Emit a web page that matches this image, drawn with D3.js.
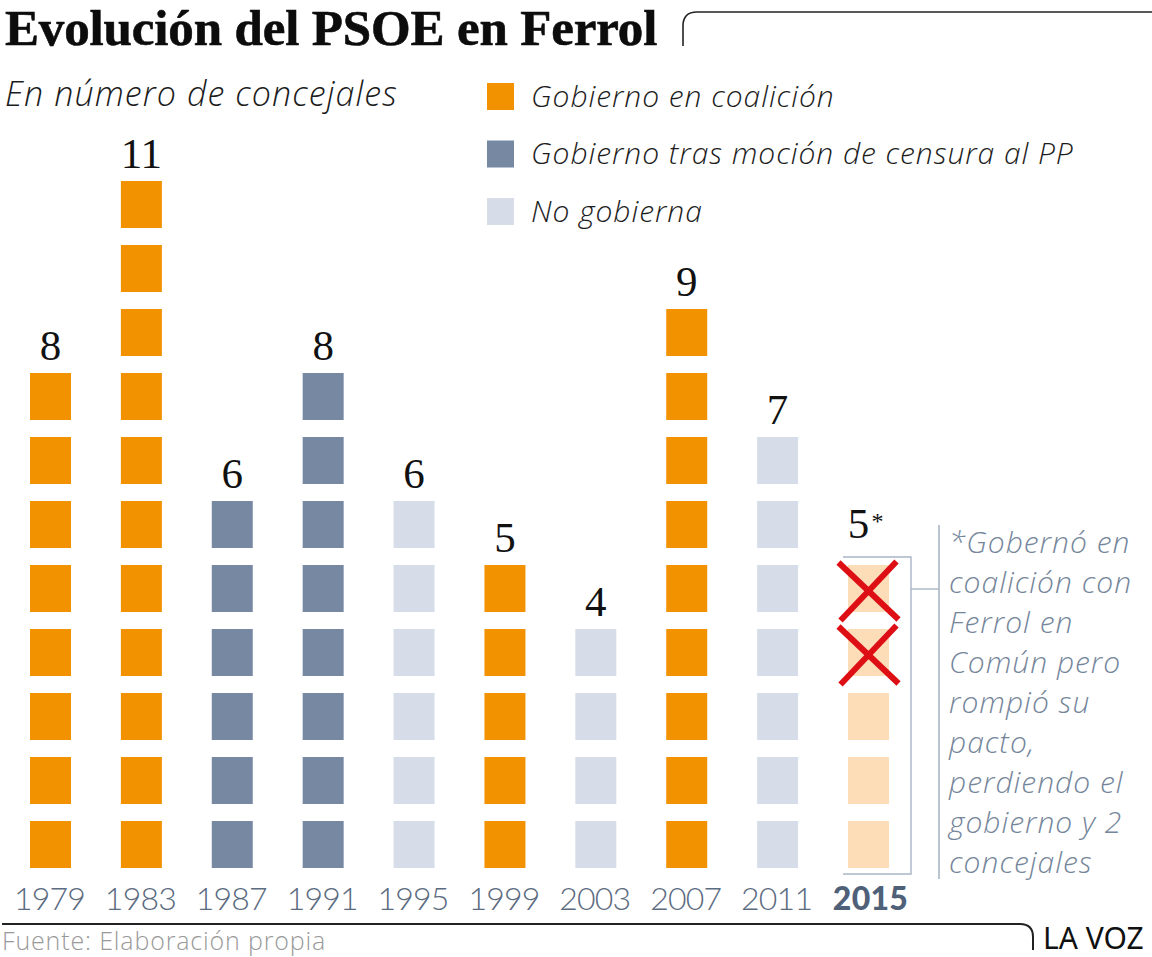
<!DOCTYPE html>
<html>
<head>
<meta charset="utf-8">
<script src="https://cdn.jsdelivr.net/npm/d3@7"></script>
<style>
  html, body { margin: 0; padding: 0; background: #fff; }
  svg { display: block; }
  text { font-family: "Open Sans", sans-serif; }
  .num { font-family: "Liberation Serif", serif; font-size: 43px; fill: #111; text-anchor: middle; }
  .years text { font-family: Lato, sans-serif; font-size: 32px; font-weight: 300; fill: #5b6b80; letter-spacing: -0.8px; }
  .note { font-size: 30px; font-style: italic; font-weight: 300; fill: #75869b; letter-spacing: 1px; }
  .leg { font-size: 30px; font-style: italic; font-weight: 300; fill: #1c1c1c; letter-spacing: 0.95px; }
</style>
</head>
<body>
<svg id="chart" width="1152" height="957"></svg>
<script>
// datos
var years = ["1979","1983","1987","1991","1995","1999","2003","2007","2011","2015"];
var seats = [8, 11, 6, 8, 6, 5, 4, 9, 7, 5];
var govStatus = ["coal","coal","mocion","mocion","no","coal","no","coal","no","roto"];
var seatLabels = ["8","11","6","8","6","5","4","9","7","5"];
var lostSeats = [3, 4]; // concejales perdidos en 2015 (desde abajo)
var legendKeys = ["coal","mocion","no"];
var legendLabels = ["Gobierno en coalición","Gobierno tras moción de censura al PP","No gobierna"];
var noteLines = ["*Gobernó en","coalición con","Ferrol en","Común pero","rompió su","pacto,","perdiendo el","gobierno y 2","concejales"];

var colors = {coal: "#f39200", mocion: "#7788a3", no: "#d7dde8", roto: "#fddcb8"};

var svg = d3.select("#chart");

var x = d3.scaleBand().domain(years).range([30, 889]).paddingInner(0.549).paddingOuter(0);
var y = d3.scaleBand().domain(d3.range(11)).range([868, 181]).paddingInner(0.2656).paddingOuter(0);

// titulo y subtitulo
svg.append("text").attr("x", 5).attr("y", 45)
  .style("font-family", "'Liberation Serif', serif").style("font-weight", 700)
  .style("font-size", "51px").style("letter-spacing", "-0.15px")
  .attr("fill", "#0c0c0c").attr("stroke", "#0c0c0c").attr("stroke-width", 0.6)
  .text("Evolución del PSOE en Ferrol");
svg.append("path").attr("d", "M683,46V26Q683,12 697,12H1152")
  .attr("fill", "none").attr("stroke", "#222").attr("stroke-width", 1.6);
svg.append("text").attr("x", 5).attr("y", 106)
  .style("font-size", "34px").style("font-style", "italic").style("font-weight", 300)
  .style("letter-spacing", "1.1px").attr("fill", "#1c1c1c")
  .text("En número de concejales");

// leyenda
var legY = d3.scalePoint().domain(legendKeys).range([96.5, 211.5]);
var leg = svg.selectAll("g.legend").data(legendKeys).join("g").attr("class", "legend")
  .attr("transform", function(d){ return "translate(0," + legY(d) + ")"; });
leg.append("rect").attr("x", 487).attr("y", -13.5).attr("width", 27).attr("height", 27)
  .attr("fill", function(d){ return colors[d]; });
leg.append("text").attr("class", "leg").attr("x", 531).attr("y", 10)
  .text(function(d, i){ return legendLabels[i]; });

// cuadrados
var cols = svg.selectAll("g.col").data(years).join("g").attr("class", "col")
  .attr("transform", function(d){ return "translate(" + x(d) + ",0)"; });
cols.each(function(d, i){
  d3.select(this).selectAll("rect").data(d3.range(seats[i])).join("rect")
    .attr("y", function(s){ return y(s); })
    .attr("width", x.bandwidth())
    .attr("height", y.bandwidth())
    .attr("fill", colors[govStatus[i]]);
  d3.select(this).append("text").attr("class", "num")
    .attr("x", x.bandwidth() / 2 - (d === "2015" ? 10 : 0))
    .attr("y", y(seats[i] - 1) - (d === "2015" ? 27 : 13))
    .text(seatLabels[i]);
});
// asterisco de 2015
svg.append("text").attr("x", x("2015") + x.bandwidth() / 2 + 3).attr("y", 529)
  .style("font-family", "'Liberation Serif', serif").style("font-size", "24px").attr("fill", "#111").text("*");

// aspas rojas
var x15 = x("2015") + x.bandwidth() / 2;
lostSeats.forEach(function(s){
  var cy = y(s) + y.bandwidth() / 2 + 2;
  var cross = svg.append("g").attr("transform", "translate(" + x15 + "," + cy + ")");
  [[-30, -28, 30, 29], [28, -29, -28, 30]].forEach(function(l){
    cross.append("line").attr("x1", l[0]).attr("y1", l[1]).attr("x2", l[2]).attr("y2", l[3])
      .attr("stroke", "#dd0f14").attr("stroke-width", 6);
  });
});

// llave y nota
var bracketRight = 911;
svg.append("path")
  .attr("d", "M843,557H" + bracketRight + "V874H843")
  .attr("fill", "none").attr("stroke", "#a9b5c6").attr("stroke-width", 1.4);
svg.append("line").attr("x1", bracketRight).attr("x2", 939).attr("y1", 589).attr("y2", 589)
  .attr("stroke", "#a9b5c6").attr("stroke-width", 1.4);
svg.append("line").attr("x1", 939).attr("x2", 939).attr("y1", 525).attr("y2", 879)
  .attr("stroke", "#a9b5c6").attr("stroke-width", 1.6);
svg.selectAll("text.note").data(noteLines).join("text").attr("class", "note")
  .attr("x", 949)
  .attr("y", function(d, i){ return 553 + i * 40; })
  .text(function(d){ return d; });

// eje de anios
var axis = d3.axisBottom(x).tickSize(0).tickPadding(0);
var gAxis = svg.append("g").attr("class", "years").attr("transform", "translate(-1,884)").call(axis);
gAxis.select(".domain").remove();
gAxis.selectAll("text").attr("dy", "0.8em");
gAxis.attr("font-family", null).attr("font-size", null);
gAxis.selectAll(".tick").filter(function(d){ return d === "2015"; }).select("text")
  .style("font-weight", 900).style("fill", "#4f6079").style("letter-spacing", "0.3px").attr("x", 3);

// pie
svg.append("path").attr("d", "M2,924H1020Q1033,924 1033,937V950")
  .attr("fill", "none").attr("stroke", "#222").attr("stroke-width", 2);
svg.append("text").attr("x", 2).attr("y", 950)
  .style("font-size", "25px").style("font-weight", 300).style("letter-spacing", "0.85px").attr("fill", "#999")
  .text("Fuente: Elaboración propia");
svg.append("text").attr("x", 1043).attr("y", 949)
  .style("font-size", "30px").style("font-family", "'Noto Sans', sans-serif").attr("fill", "#111")
  .text("LA VOZ");
</script>
</body>
</html>
